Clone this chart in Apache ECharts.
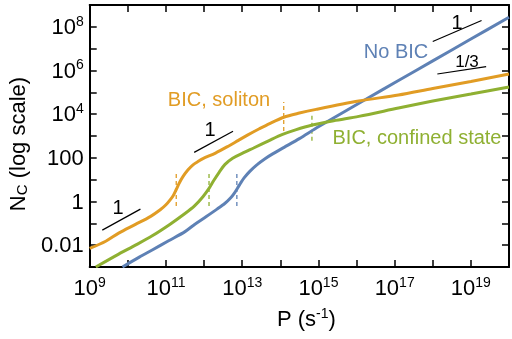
<!DOCTYPE html>
<html>
<head>
<meta charset="utf-8">
<title>Nc vs P</title>
<script src="https://cdn.jsdelivr.net/npm/echarts@6/dist/echarts.min.js"></script>
<style>
html, body { margin: 0; padding: 0; background: #fff; }
#chart { width: 512px; height: 339px; }
</style>
</head>
<body>
<div id="chart"></div>
<script type="text/javascript">
// all values are log10: x = log10 P (s^-1), y = log10 Nc
var noBicX = [9.86, 10.3, 10.64, 11.07, 11.5, 11.76, 12.05, 12.34, 12.55, 12.7, 12.8, 12.88, 12.96, 13.05, 13.2, 13.4, 13.6, 13.8, 14.1, 14.5, 15.0, 16.2, 17.1, 18, 19, 20];
var noBicY = [-3.0, -2.55, -2.22, -1.8, -1.38, -1.04, -0.7, -0.35, -0.08, 0.17, 0.4, 0.62, 0.85, 1.08, 1.38, 1.7, 1.96, 2.18, 2.48, 2.88, 3.42, 4.64, 5.54, 6.44, 7.44, 8.44];

var solitonX = [9.0, 9.42, 9.76, 10.2, 10.6, 10.85, 11.0, 11.12, 11.2, 11.27, 11.35, 11.45, 11.58, 11.71, 11.85, 11.97, 12.3, 12.6, 12.9, 13.15, 13.45, 13.72, 14.09, 14.5, 14.94, 16.06, 17.1, 18, 19, 20];
var solitonY = [-2.15, -1.82, -1.45, -1.05, -0.68, -0.38, -0.15, 0.1, 0.3, 0.55, 0.85, 1.15, 1.45, 1.68, 1.84, 1.96, 2.22, 2.5, 2.8, 3.05, 3.33, 3.57, 3.86, 4.05, 4.22, 4.6, 4.88, 5.18, 5.5, 5.84];

var confinedX = [9.16, 9.76, 10.2, 10.64, 11.1, 11.5, 11.75, 11.97, 12.13, 12.25, 12.4, 12.55, 12.75, 13.0, 13.3, 13.72, 14.06, 14.4, 14.84, 15.4, 16.06, 17.1, 18, 19, 20];
var confinedY = [-3.0, -2.41, -2.0, -1.57, -1.05, -0.55, -0.2, 0.22, 0.6, 0.95, 1.35, 1.7, 1.98, 2.2, 2.45, 2.8, 3.07, 3.28, 3.5, 3.7, 3.9, 4.28, 4.6, 4.92, 5.24];

// vertical dashed marks: [x, yLow, yHigh]
var solitonMarks = [[11.27, -0.21, 1.26], [14.09, 3.23, 4.56]];
var confinedMarks = [[12.13, -0.21, 1.26], [14.83, 2.78, 4.01]];
var noBicMarks = [[12.86, -0.21, 1.26]];

// slope guide segments: [x0, y0, x1, y1]
var guides = [
    [9.33, -1.31, 10.33, -0.35],
    [11.74, 2.25, 12.76, 3.22],
    [18.0, 7.33, 19.28, 8.29],
    [18.12, 5.84, 19.4, 6.18]
];

var xTicks = [9, 11, 13, 15, 17, 19];
var yTicks = [-2, 0, 2, 4, 6, 8];
var yTickText = {'-2': '0.01', '0': '1', '2': '100'};

var BLUE = '#5E81B5', ORANGE = '#E19C24', GREEN = '#8FB032';
var FONT = 'Liberation Sans, Arial, sans-serif';

function zip(xs, ys) {
    var res = [];
    for (var i = 0; i < xs.length; i++) res.push([xs[i], ys[i]]);
    return res;
}

var rich = {
    b: { fontSize: 22, lineHeight: 24, verticalAlign: 'bottom', fontFamily: FONT, color: '#000' },
    s: { fontSize: 14, lineHeight: 14, verticalAlign: 'top', fontFamily: FONT, color: '#000' },
    sub: { fontSize: 15, lineHeight: 15, verticalAlign: 'bottom', fontFamily: FONT, color: '#000' }
};

function curve(name, xs, ys, color) {
    return {
        name: name, type: 'line', data: zip(xs, ys),
        showSymbol: false, smooth: 0.3, clip: true,
        lineStyle: { color: color, width: 3 }, z: 3
    };
}

function marks(list, color) {
    return list.map(function (m) {
        return {
            type: 'line', data: [[m[0], m[1]], [m[0], m[2]]], showSymbol: false,
            lineStyle: { color: color, width: 1.3, type: [4, 3] }, z: 2
        };
    });
}

var series = [
    curve('No BIC', noBicX, noBicY, BLUE),
    curve('BIC, soliton', solitonX, solitonY, ORANGE),
    curve('BIC, confined state', confinedX, confinedY, GREEN)
];
series = series.concat(marks(solitonMarks, ORANGE), marks(confinedMarks, GREEN), marks(noBicMarks, BLUE));
guides.forEach(function (g) {
    series.push({
        type: 'line', data: [[g[0], g[1]], [g[2], g[3]]], showSymbol: false,
        lineStyle: { color: '#000', width: 1.2 }, z: 4
    });
});

var frameLine = { onZero: false, lineStyle: { color: '#000', width: 2 } };
var tick = { inside: true, length: 7, lineStyle: { color: '#000', width: 1.5 } };

var myChart = echarts.init(document.getElementById('chart'));
var option = {
    animation: false,
    grid: { left: 89, right: 1, top: 5, bottom: 72 },
    xAxis: [{
        type: 'value', min: 9, max: 20, interval: 1, position: 'bottom',
        axisLine: frameLine, axisTick: tick, splitLine: { show: false },
        name: '{b|P (s}{s|-1}{b|)}', nameLocation: 'middle', nameGap: 40,
        nameTextStyle: { padding: [0, 0, 0, 14], rich: rich },
        axisLabel: {
            margin: 9, rich: rich,
            formatter: function (v) {
                return xTicks.indexOf(v) >= 0 ? '{b|10}{s|' + v + '}' : '';
            }
        }
    }, {
        type: 'value', min: 9, max: 20, interval: 1, position: 'top',
        axisLine: frameLine, axisTick: tick, splitLine: { show: false }, axisLabel: { show: false }
    }],
    yAxis: [{
        type: 'value', min: -3, max: 9, interval: 1, position: 'left',
        axisLine: frameLine, axisTick: tick, splitLine: { show: false },
        name: '{b|N}{sub|C}{b| (log scale)}', nameLocation: 'middle', nameGap: 56, nameRotate: 90,
        nameTextStyle: { padding: [0, 16, 0, 0], rich: rich },
        axisLabel: {
            margin: 6, rich: rich,
            formatter: function (v) {
                if (yTicks.indexOf(v) < 0) return '';
                if (yTickText[v] !== undefined) return '{b|' + yTickText[v] + '}';
                return '{b|10}{s|' + v + '}';
            }
        }
    }, {
        type: 'value', min: -3, max: 9, interval: 1, position: 'right',
        axisLine: frameLine, axisTick: tick, splitLine: { show: false }, axisLabel: { show: false }
    }],
    graphic: [
        { type: 'text', x: 396, y: 52, style: { text: 'No BIC', fill: BLUE, font: '20px ' + FONT, textAlign: 'center', textVerticalAlign: 'middle' } },
        { type: 'text', x: 219, y: 100, style: { text: 'BIC, soliton', fill: ORANGE, font: '20px ' + FONT, textAlign: 'center', textVerticalAlign: 'middle' } },
        { type: 'text', x: 417, y: 138, style: { text: 'BIC, confined state', fill: GREEN, font: '20px ' + FONT, textAlign: 'center', textVerticalAlign: 'middle' } },
        { type: 'text', x: 118, y: 208, style: { text: '1', fill: '#000', font: '20px ' + FONT, textAlign: 'center', textVerticalAlign: 'middle' } },
        { type: 'text', x: 210, y: 130, style: { text: '1', fill: '#000', font: '20px ' + FONT, textAlign: 'center', textVerticalAlign: 'middle' } },
        { type: 'text', x: 457, y: 23, style: { text: '1', fill: '#000', font: '20px ' + FONT, textAlign: 'center', textVerticalAlign: 'middle' } },
        { type: 'text', x: 467, y: 62, style: { text: '1/3', fill: '#000', font: '17px ' + FONT, textAlign: 'center', textVerticalAlign: 'middle' } }
    ],
    series: series
};
myChart.setOption(option);
</script>
</body>
</html>
